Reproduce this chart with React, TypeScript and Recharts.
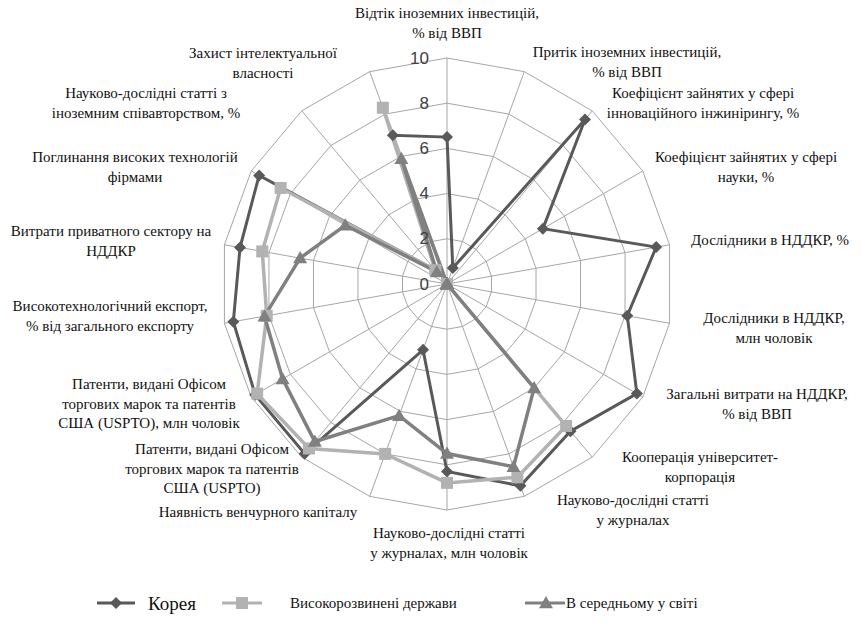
import { RadarChart, Radar, PolarGrid, PolarAngleAxis, PolarRadiusAxis } from 'recharts';

const categories = [
  'Відтік іноземних інвестицій,\n% від ВВП',
  'Притік іноземних інвестицій,\n% від ВВП',
  'Коефіцієнт зайнятих у сфері\nінноваційного інжинірингу, %',
  'Коефіцієнт зайнятих у сфері\nнауки, %',
  'Дослідники в НДДКР, %',
  'Дослідники в НДДКР,\nмлн чоловік',
  'Загальні витрати на НДДКР,\n% від ВВП',
  'Кооперація університет-\nкорпорація',
  'Науково-дослідні статті\nу журналах',
  'Науково-дослідні статті\nу журналах, млн чоловік',
  'Наявність венчурного капіталу',
  'Патенти, видані Офісом\nторгових марок та патентів\nСША (USPTO)',
  'Патенти, видані Офісом\nторгових марок та патентів\nСША (USPTO), млн чоловік',
  'Високотехнологічний експорт,\n% від загального експорту',
  'Витрати приватного сектору на\nНДДКР',
  'Поглинання високих технологій\nфірмами',
  'Науково-дослідні статті з\nіноземним співавторством, %',
  'Захист інтелектуальної\nвласності',
];

const korea = [6.5, 0.75, 9.5, 4.9, 9.4, 8.1, 9.7, 8.5, 9.5, 8.3, 3.1, 9.8, 9.8, 9.6, 9.3, 9.6, 0.8, 7.0];
const developed = [0, 0, 0, 0, 0, 0, 0, 8.2, 9.1, 8.8, 8.0, 9.5, 9.7, 8.1, 8.3, 8.5, 0.8, 8.3];
const world = [0, 0, 0, 0, 0, 0, 0, 6.0, 8.6, 7.5, 6.2, 9.1, 8.4, 8.2, 6.6, 5.2, 0.7, 5.9];

const radiusTicks = [0, 2, 4, 6, 8, 10];

// label centres (x, y of first line) around the web
const labelPos: [number, number][] = [
  [447, 13], [627, 52], [703, 93], [746, 157], [770, 240], [774, 318],
  [757, 394], [700, 457], [633, 500], [449, 533], [258, 512], [212, 449],
  [149, 384], [110, 306], [111, 231], [135, 157], [146, 93], [263, 53],
];

const data = categories.map((name, i) => ({
  name,
  korea: korea[i],
  developed: developed[i],
  world: world[i],
}));

const KOREA = '#595959';
const DEV = '#b2b2b2';
const WORLD = '#808080';
const SERIF = { fontFamily: "'Liberation Serif', 'Times New Roman', serif" };
const SANS = { fontFamily: "'Liberation Sans', Arial, sans-serif" };

function AngleTick(props: any) {
  const idx = categories.indexOf(props.payload.value);
  const [x, y] = labelPos[idx];
  const lines = String(props.payload.value).split('\n');
  return (
    <text x={x} y={y} textAnchor="middle" dominantBaseline="central" style={SERIF} fontSize={15} fill="#111">
      {lines.map((l, i) => (
        <tspan key={i} x={x} dy={i === 0 ? 0 : 19.5}>{l}</tspan>
      ))}
    </text>
  );
}

function RadiusTick(props: any) {
  const { x, y, payload } = props;
  return (
    <text x={x - 18} y={y} textAnchor="end" dominantBaseline="central" style={SANS} fontSize={17} fill="#404040">
      {payload.value}
    </text>
  );
}

const Diamond = (props: any) => {
  const { cx, cy } = props;
  if (cx == null) return null;
  const s = 6;
  return <path key={`d${props.index}`} d={`M${cx},${cy - s}L${cx + s},${cy}L${cx},${cy + s}L${cx - s},${cy}Z`} fill={KOREA} />;
};

const Square = (props: any) => {
  const { cx, cy } = props;
  if (cx == null) return null;
  const s = 6;
  return <rect key={`s${props.index}`} x={cx - s} y={cy - s} width={2 * s} height={2 * s} fill={DEV} />;
};

const Triangle = (props: any) => {
  const { cx, cy } = props;
  if (cx == null) return null;
  const s = 7;
  return <path key={`t${props.index}`} d={`M${cx},${cy - s}L${cx + s},${cy + s * 0.75}L${cx - s},${cy + s * 0.75}Z`} fill={WORLD} />;
};

function Legend() {
  const y = 603;
  return (
    <svg width={862} height={40} style={{ position: 'absolute', left: 0, top: y - 20 }}>
      <line x1={97} x2={135} y1={20} y2={20} stroke={KOREA} strokeWidth={3} />
      <Diamond cx={116} cy={20} index={0} />
      <text x={148} y={20} dominantBaseline="central" style={SERIF} fontSize={19} fill="#111">Корея</text>
      <line x1={222} x2={262} y1={20} y2={20} stroke={DEV} strokeWidth={3} />
      <Square cx={242} cy={20} index={0} />
      <text x={290} y={20} dominantBaseline="central" style={SERIF} fontSize={15} fill="#111">Високорозвинені держави</text>
      <line x1={525} x2={565} y1={20} y2={20} stroke={WORLD} strokeWidth={3} />
      <Triangle cx={546} cy={20} index={0} />
      <text x={566} y={20} dominantBaseline="central" style={SERIF} fontSize={15} fill="#111">В середньому у світі</text>
    </svg>
  );
}

export default function App() {
  return (
    <div style={{ position: 'absolute', left: 0, top: 0, width: 862, height: 628, background: '#fff' }}>
      <RadarChart width={862} height={628} data={data} cx={447} cy={284} outerRadius={226} margin={{ top: 0, right: 0, bottom: 0, left: 0 }}>
        <PolarGrid gridType="polygon" stroke="#a6a6a6" strokeWidth={1} />
        <PolarAngleAxis dataKey="name" tick={<AngleTick />} tickLine={false} axisLine={false} />
        <PolarRadiusAxis angle={90} domain={[0, 10]} ticks={radiusTicks} tickCount={6} axisLine={false} tickLine={false} tick={<RadiusTick />} />
        <Radar name="Корея" dataKey="korea" stroke={KOREA} strokeWidth={3} fill="none" fillOpacity={0} dot={Diamond} isAnimationActive={false} />
        <Radar name="Високорозвинені держави" dataKey="developed" stroke={DEV} strokeWidth={3.5} fill="none" fillOpacity={0} dot={Square} isAnimationActive={false} />
        <Radar name="В середньому у світі" dataKey="world" stroke={WORLD} strokeWidth={3.5} fill="none" fillOpacity={0} dot={Triangle} isAnimationActive={false} />
      </RadarChart>
      <Legend />
    </div>
  );
}
